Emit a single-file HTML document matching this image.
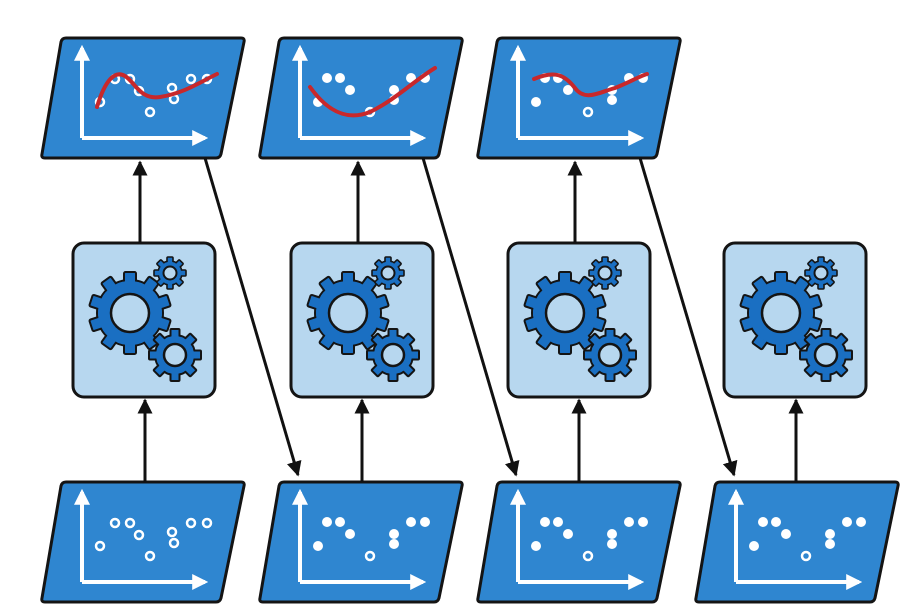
<!DOCTYPE html><html><head><style>body{margin:0;background:#fff}svg{display:block}</style></head><body>
<svg width="917" height="615" viewBox="0 0 917 615" xmlns="http://www.w3.org/2000/svg">
<defs>
<marker id="ah" viewBox="0 0 10 10" refX="9" refY="5" markerWidth="5" markerHeight="5" orient="auto"><path d="M0,0L10,5L0,10z" fill="#111"/></marker>
<marker id="wa" viewBox="0 0 10 10" refX="8" refY="5" markerWidth="4" markerHeight="4" orient="auto"><path d="M0,0L10,5L0,10z" fill="#fff"/></marker>
<g id="para">
<path d="M24,0 L199,0 Q203,0 202,4 L179,116 Q178,120 174,120 L3,120 Q-1,120 0,116 L19,4 Q20,0 24,0Z" fill="#2f86d0" stroke="#141414" stroke-width="3"/>
<path d="M40,100 L40,10" stroke="#fff" stroke-width="4" marker-end="url(#wa)"/>
<path d="M40,100 L163,100" stroke="#fff" stroke-width="4" marker-end="url(#wa)"/>
</g>
<rect id="tb" x="-6" y="-41" width="12" height="12" rx="1.5" fill="#1a6fc2" stroke="#141414" stroke-width="2"/>
<rect id="tm" x="-4.5" y="-26" width="9" height="9" rx="1" fill="#1a6fc2" stroke="#141414" stroke-width="2"/>
<rect id="ts" x="-3" y="-16" width="6" height="6" rx="1" fill="#1a6fc2" stroke="#141414" stroke-width="1.6"/>
<g id="gbig">
<circle r="33" fill="#1a6fc2" stroke="#141414" stroke-width="2"/>
<use href="#tb"/><use href="#tb" transform="rotate(36)"/><use href="#tb" transform="rotate(72)"/><use href="#tb" transform="rotate(108)"/><use href="#tb" transform="rotate(144)"/><use href="#tb" transform="rotate(180)"/><use href="#tb" transform="rotate(216)"/><use href="#tb" transform="rotate(252)"/><use href="#tb" transform="rotate(288)"/><use href="#tb" transform="rotate(324)"/>
<circle r="32" fill="#1a6fc2"/>
<circle r="19" fill="#b7d7ef" stroke="#141414" stroke-width="2.5"/>
</g>
<g id="gmed">
<circle r="20" fill="#1a6fc2" stroke="#141414" stroke-width="2"/>
<use href="#tm"/><use href="#tm" transform="rotate(45)"/><use href="#tm" transform="rotate(90)"/><use href="#tm" transform="rotate(135)"/><use href="#tm" transform="rotate(180)"/><use href="#tm" transform="rotate(225)"/><use href="#tm" transform="rotate(270)"/><use href="#tm" transform="rotate(315)"/>
<circle r="19" fill="#1a6fc2"/>
<circle r="11" fill="#b7d7ef" stroke="#141414" stroke-width="2.5"/>
</g>
<g id="gsm">
<circle r="12" fill="#1a6fc2" stroke="#141414" stroke-width="1.6"/>
<use href="#ts"/><use href="#ts" transform="rotate(45)"/><use href="#ts" transform="rotate(90)"/><use href="#ts" transform="rotate(135)"/><use href="#ts" transform="rotate(180)"/><use href="#ts" transform="rotate(225)"/><use href="#ts" transform="rotate(270)"/><use href="#ts" transform="rotate(315)"/>
<circle r="11.2" fill="#1a6fc2"/>
<circle r="6.5" fill="#b7d7ef" stroke="#141414" stroke-width="2"/>
</g>
<g id="gbox">
<rect x="0" y="0" width="142" height="154" rx="11" fill="#b7d7ef" stroke="#141414" stroke-width="3"/>
<use href="#gbig" x="57" y="70"/>
<use href="#gsm" x="97" y="30"/>
<use href="#gmed" x="102" y="112"/>
</g>
<g id="opendots" fill="#2f86d0" stroke="#fff" stroke-width="2.5">
<circle cx="73" cy="41" r="4"/><circle cx="88" cy="41" r="4"/><circle cx="97" cy="53" r="4"/><circle cx="58" cy="64" r="4"/><circle cx="130" cy="50" r="4"/><circle cx="132" cy="61" r="4"/><circle cx="108" cy="74" r="4"/><circle cx="149" cy="41" r="4"/><circle cx="165" cy="41" r="4"/>
</g>
<g id="filldots" fill="#fff">
<circle cx="67" cy="40" r="5"/><circle cx="80" cy="40" r="5"/><circle cx="90" cy="52" r="5"/><circle cx="58" cy="64" r="5"/><circle cx="134" cy="52" r="5"/><circle cx="134" cy="62" r="5"/><circle cx="151" cy="40" r="5"/><circle cx="165" cy="40" r="5"/>
<circle cx="110" cy="74" r="4" fill="#2f86d0" stroke="#fff" stroke-width="2.5"/>
</g>
</defs>

<use href="#para" x="42" y="38"/><use href="#opendots" x="42" y="38"/>
<path d="M97,107 C105,80 115,70 125,76 C135,82 140,100 160,97 C185,93 200,82 217,74" fill="none" stroke="#c8282b" stroke-width="4" stroke-linecap="round"/>
<use href="#para" x="260" y="38"/><use href="#filldots" x="260" y="38"/>
<path d="M310,87 C330,115 350,120 370,112 C395,100 415,80 435,68" fill="none" stroke="#c8282b" stroke-width="4" stroke-linecap="round"/>
<use href="#para" x="478" y="38"/><use href="#filldots" x="478" y="38"/>
<path d="M534,79 C555,70 565,75 575,88 C585,102 600,92 615,88 C630,82 640,76 647,74" fill="none" stroke="#c8282b" stroke-width="4" stroke-linecap="round"/>

<use href="#gbox" x="73" y="243"/><use href="#gbox" x="291" y="243"/><use href="#gbox" x="508" y="243"/><use href="#gbox" x="724" y="243"/>

<use href="#para" x="42" y="482"/><use href="#opendots" x="42" y="482"/>
<use href="#para" x="260" y="482"/><use href="#filldots" x="260" y="482"/>
<use href="#para" x="478" y="482"/><use href="#filldots" x="478" y="482"/>
<use href="#para" x="696" y="482"/><use href="#filldots" x="696" y="482"/>

<g stroke="#111" stroke-width="3" fill="none" marker-end="url(#ah)">
<path d="M140,243 L140,162"/><path d="M358,243 L358,162"/><path d="M575,243 L575,162"/>
<path d="M145,482 L145,400"/><path d="M362,482 L362,400"/><path d="M579,482 L579,400"/><path d="M796,482 L796,400"/>
<path d="M205,158 L298,475"/><path d="M423,158 L516,475"/><path d="M640,158 L734,475"/>
</g>
</svg>
</body></html>
